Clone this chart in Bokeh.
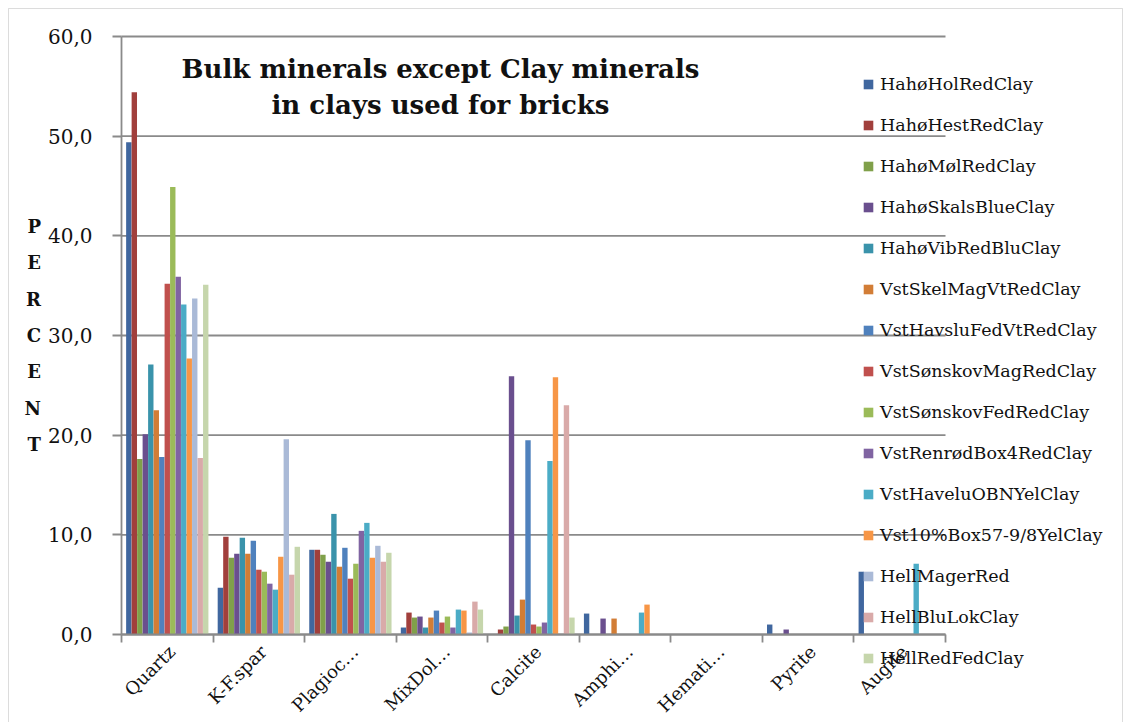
import math

from bokeh.embed import file_html
from bokeh.models import (BoxAnnotation, FixedTicker, Label, Legend, LegendItem,
                          Range1d)
from bokeh.plotting import figure
from bokeh.resources import INLINE

# Minerals on the x axis
minerals = ["Quartz", "K-F.spar", "Plagioc…", "MixDol…", "Calcite",
            "Amphi…", "Hemati…", "Pyrite", "Augite"]

# Percent of each mineral, one list per clay sample
haho_hol_red = [49.4, 4.7, 8.5, 0.7, 0.0, 2.1, 0.0, 1.0, 6.3]
haho_hest_red = [54.4, 9.8, 8.5, 2.2, 0.5, 0.0, 0.0, 0.0, 0.0]
haho_mol_red = [17.6, 7.7, 8.0, 1.7, 0.8, 0.0, 0.0, 0.0, 0.0]
haho_skals_blue = [20.1, 8.1, 7.3, 1.8, 25.9, 1.6, 0.0, 0.5, 0.0]
haho_vib_redblu = [27.1, 9.7, 12.1, 0.7, 1.9, 0.0, 0.0, 0.0, 0.0]
vst_skel_mag = [22.5, 8.1, 6.8, 1.7, 3.5, 1.6, 0.0, 0.0, 0.0]
vst_havslu_fed = [17.8, 9.4, 8.7, 2.4, 19.5, 0.0, 0.0, 0.0, 0.0]
vst_sonskov_mag = [35.2, 6.5, 5.6, 1.2, 1.0, 0.0, 0.0, 0.0, 0.0]
vst_sonskov_fed = [44.9, 6.3, 7.1, 1.8, 0.8, 0.0, 0.0, 0.0, 0.0]
vst_renrod_box4 = [35.9, 5.1, 10.4, 0.7, 1.2, 0.0, 0.0, 0.0, 0.0]
vst_havelu_obn = [33.1, 4.5, 11.2, 2.5, 17.4, 2.2, 0.0, 0.0, 7.1]
vst_10_box57 = [27.7, 7.8, 7.7, 2.4, 25.8, 3.0, 0.0, 0.0, 0.0]
hell_mager = [33.7, 19.6, 8.9, 0.2, 0.0, 0.0, 0.0, 0.0, 0.0]
hell_blu_lok = [17.7, 6.0, 7.3, 3.3, 23.0, 0.0, 0.0, 0.0, 0.0]
hell_red_fed = [35.1, 8.8, 8.2, 2.5, 1.7, 0.0, 0.0, 0.0, 0.0]

sample_names = ["HahøHolRedClay", "HahøHestRedClay", "HahøMølRedClay",
                "HahøSkalsBlueClay", "HahøVibRedBluClay", "VstSkelMagVtRedClay",
                "VstHavsluFedVtRedClay", "VstSønskovMagRedClay",
                "VstSønskovFedRedClay", "VstRenrødBox4RedClay",
                "VstHaveluOBNYelClay", "Vst10%Box57-9/8YelClay", "HellMagerRed",
                "HellBluLokClay", "HellRedFedClay"]
sample_values = [haho_hol_red, haho_hest_red, haho_mol_red, haho_skals_blue,
                 haho_vib_redblu, vst_skel_mag, vst_havslu_fed, vst_sonskov_mag,
                 vst_sonskov_fed, vst_renrod_box4, vst_havelu_obn, vst_10_box57,
                 hell_mager, hell_blu_lok, hell_red_fed]

colors = ["#40679f", "#a13f3c", "#80a04a", "#6a4f8e", "#3a93ab", "#d27d36",
          "#4f81bd", "#c0504d", "#9bbb59", "#8064a2", "#4bacc6", "#f79646",
          "#aabad7", "#d9aaa9", "#c6d6ac"]

y_ticks = [0, 10, 20, 30, 40, 50, 60]
y_max = 60

GRID = "#8a8a8a"
SERIF = "DejaVu Serif"
INK = "#111111"

# Page geometry (pixels): the plotting frame fills the page, the axes sit at
# fixed data locations so the legend and captions can spread past the bars.
W, H = 1130, 722
AX_LEFT, AX_RIGHT = 121, 945     # where x = 0 and x = len(minerals) fall
AX_TOP, AX_BOTTOM = 36, 634      # where y = y_max and y = 0 fall

n_cat = len(minerals)
px_per_x = (AX_RIGHT - AX_LEFT) / n_cat
px_per_y = (AX_BOTTOM - AX_TOP) / y_max
x_range = Range1d(-AX_LEFT / px_per_x, (W - AX_LEFT) / px_per_x)
y_range = Range1d(-(H - AX_BOTTOM) / px_per_y, AX_BOTTOM / px_per_y)

p = figure(width=W, height=H, output_backend="svg", toolbar_location=None,
           x_range=x_range, y_range=y_range, min_border=0,
           background_fill_color="white", border_fill_color="white")
p.title.visible = False
p.outline_line_color = None
p.xgrid.visible = False
p.ygrid.visible = False

# horizontal gridlines spanning the category area only
p.segment(x0=[0] * len(y_ticks), x1=[n_cat] * len(y_ticks), y0=y_ticks, y1=y_ticks,
          line_color=GRID, line_width=1.8)

# y axis with the stacked caption
p.yaxis.fixed_location = 0
p.yaxis.bounds = (0, y_max)
p.yaxis.ticker = FixedTicker(ticks=y_ticks)
p.yaxis.major_label_overrides = {t: f"{t:.1f}".replace(".", ",") for t in y_ticks}
p.yaxis.axis_line_color = GRID
p.yaxis.axis_line_width = 1.8
p.yaxis.major_tick_line_color = GRID
p.yaxis.major_tick_line_width = 1.8
p.yaxis.major_tick_in = 0
p.yaxis.major_tick_out = 9
p.yaxis.minor_tick_line_color = None
p.yaxis.major_label_standoff = 20
p.yaxis.major_label_text_font = SERIF
p.yaxis.major_label_text_font_size = "20px"
p.yaxis.major_label_text_color = INK
p.yaxis.axis_label = "P\nE\nR\nC\nE\nN\nT"
p.yaxis.axis_label_orientation = "horizontal"
p.yaxis.axis_label_standoff = 4
p.yaxis.axis_label_text_font = SERIF
p.yaxis.axis_label_text_font_style = "bold"
p.yaxis.axis_label_text_font_size = "18px"
p.yaxis.axis_label_text_line_height = 1.73
p.yaxis.axis_label_text_color = INK

# x axis: labels near group centres, tick marks between groups
centres = [i + 0.5 for i in range(n_cat)]
label_pos = [c + 0.05 for c in centres]
p.xaxis.fixed_location = 0
p.xaxis.bounds = (0, n_cat)
p.xaxis.ticker = FixedTicker(ticks=label_pos, minor_ticks=list(range(n_cat + 1)))
p.xaxis.major_label_overrides = {c: m for c, m in zip(label_pos, minerals)}
p.xaxis.major_label_orientation = math.pi / 4
p.xaxis.major_tick_line_color = None
p.xaxis.major_tick_in = 0
p.xaxis.major_tick_out = 0
p.xaxis.minor_tick_line_color = GRID
p.xaxis.minor_tick_line_width = 1.8
p.xaxis.minor_tick_in = 0
p.xaxis.minor_tick_out = 8
p.xaxis.axis_line_color = GRID
p.xaxis.axis_line_width = 1.8
p.xaxis.major_label_standoff = 6
p.xaxis.major_label_text_font = SERIF
p.xaxis.major_label_text_font_size = "18px"
p.xaxis.major_label_text_color = INK

# grouped bars
n = len(sample_names)
group = 0.9
bar_w = group / n
items = []
for j, (name, vals, col) in enumerate(zip(sample_names, sample_values, colors)):
    xs = [c - group / 2 + bar_w * (j + 0.5) for c in centres]
    r = p.vbar(x=xs, top=vals, bottom=0, width=bar_w * 0.98, fill_color=col,
               line_color=None)
    items.append(LegendItem(label=name, renderers=[r]))

legend = Legend(items=items, location=(862, H - 668), orientation="vertical",
                padding=0, margin=0, spacing=21, label_height=20,
                glyph_height=12, glyph_width=12, label_standoff=6,
                label_text_font=SERIF, label_text_font_size="17.5px",
                label_text_color=INK, background_fill_alpha=0,
                border_line_color=None)
p.add_layout(legend)

# title inside the plot area
title = Label(x=440, y=H - 53, x_units="screen", y_units="screen",
              text="Bulk minerals except Clay minerals\nin clays used for bricks",
              text_align="center", text_baseline="top", text_font=SERIF,
              text_font_style="bold", text_font_size="26px",
              text_line_height=1.22, text_color=INK)
p.add_layout(title)

# thin frame round the whole chart
border = BoxAnnotation(left=8, right=W - 8, top=H - 8, bottom=-5,
                       left_units="screen", right_units="screen",
                       top_units="screen", bottom_units="screen",
                       fill_alpha=0, line_color="#8c8c8c", line_width=1)
p.add_layout(border)

open("out.html", "w").write(file_html(p, INLINE))
